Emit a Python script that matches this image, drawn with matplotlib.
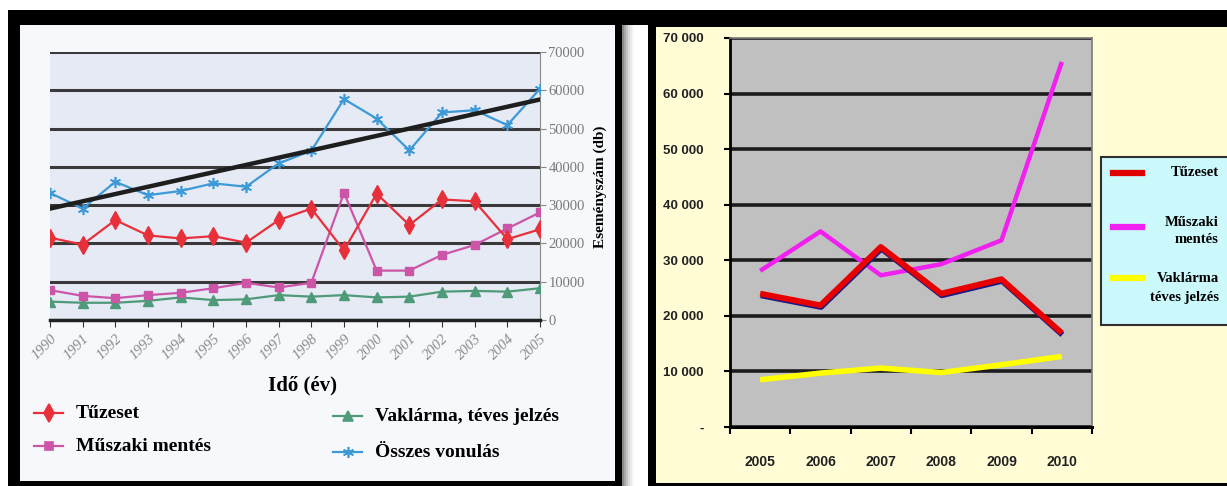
import numpy as np
import matplotlib
matplotlib.use("Agg")
import matplotlib.pyplot as plt
from matplotlib.patches import Rectangle
from matplotlib.lines import Line2D
from matplotlib import patheffects as pe

# left chart: 1990-2005
years_a = list(range(1990, 2006))
tuzeset_a = [21500, 19700, 26100, 22100, 21300, 21900, 20200, 26100,
             29100, 18200, 33000, 24800, 31500, 31000, 21100, 23700]
muszaki_a = [7800, 6300, 5700, 6500, 7100, 8300, 9700, 8500,
             9700, 33200, 12900, 12900, 17000, 19600, 23900, 28100]
vaklarma_a = [4800, 4500, 4500, 5000, 5900, 5200, 5400, 6500,
              6100, 6500, 5900, 6100, 7400, 7600, 7400, 8300]
osszes_a = [33200, 29100, 36100, 32600, 33700, 35700, 34800, 40900,
            44200, 57700, 52600, 44300, 54200, 54800, 50900, 60400]
trend_years = [1990, 2005]
trend_vals = [29100, 57600]

# right chart: 2005-2010
years_b = [2005, 2006, 2007, 2008, 2009, 2010]
tuzeset_b = [24000, 21900, 32400, 24000, 26600, 16900]
muszaki_b = [28100, 35200, 27300, 29300, 33600, 65700]
vaklarma_b = [8500, 9700, 10600, 9800, 11200, 12700]

W, H = 1227, 486
SERIF = "Liberation Serif"
SANS = "Liberation Sans"


def fx(px):
    return px / W


def fy(py):
    return 1 - py / H


def box(x0, y0, x1, y1, color, z=0):
    fig.add_artist(Rectangle((fx(x0), fy(y1)), fx(x1) - fx(x0), fy(y0) - fy(y1),
                             transform=fig.transFigure, facecolor=color,
                             edgecolor="none", zorder=z))


fig = plt.figure(figsize=(W / 100, H / 100), dpi=100)
fig.patch.set_facecolor("white")

# frames and panel backgrounds
box(8, 10, W, H, "black", -10)
box(20, 25, 615, 481, "#f6f8fc", -9)
box(622, 25, 648, H, "white", -9)
for i, c in enumerate(["#8a8a8a", "#a8a8a8", "#c4c4c4", "#dadada", "#ebebeb", "#f6f6f6"]):
    box(622 + i * 2, 25, 624 + i * 2, H, c, -8)
box(656, 27, W, 483, "#fffcd6", -9)

# ---------------- left chart ----------------
ax1 = fig.add_axes([fx(50), fy(320), fx(540) - fx(50), fy(52) - fy(320)])
ax1.set_facecolor("#e5eaf5")
ax1.set_xlim(1990, 2005)
ax1.set_ylim(0, 70000)
ax1.set_yticks(range(0, 70001, 10000))
ax1.yaxis.tick_right()
ax1.yaxis.grid(True, color="#3a3a3a", lw=2.2)
ax1.set_axisbelow(True)
for s in ["left", "top"]:
    ax1.spines[s].set_visible(False)
ax1.spines["right"].set_color("#8a8a8a")
ax1.spines["bottom"].set_color("#222222")
ax1.spines["bottom"].set_linewidth(2.5)
ax1.tick_params(axis="y", colors="#8a8a8a", labelcolor="#7a7a7a", length=4,
                labelsize=10.5, pad=2)
for lab in ax1.get_yticklabels():
    lab.set_fontfamily(SERIF)
ax1.set_xticks(years_a)
ax1.set_xticklabels([str(y) for y in years_a], rotation=45, ha="right",
                    rotation_mode="anchor", fontfamily=SERIF, fontstyle="italic",
                    fontsize=10.5, color="#8a8a8a")
ax1.tick_params(axis="x", length=5, color="#333333", pad=4)

ax1.plot(years_a, osszes_a, color="#3d9ad6", lw=1.6, marker=(6, 2, 0), ms=8,
         mew=1.2, zorder=3)
ax1.plot(trend_years, trend_vals, color="#1e1e1e", lw=3.2, zorder=4)
ax1.plot(years_a, vaklarma_a, color="#4f9a78", lw=1.6, marker="^", ms=7, zorder=3)
ax1.plot(years_a, muszaki_a, color="#cc55a8", lw=1.6, marker="s", ms=6, zorder=3)
ax1.plot(years_a, tuzeset_a, color="#e8303a", lw=1.6, marker="d", ms=9, zorder=5)

fig.text(fx(600), fy(187), "Eseményszám (db)", rotation=90, ha="center",
         va="center", fontfamily=SERIF, fontweight="bold", fontsize=11)
fig.text(fx(303), fy(385), "Idő (év)", ha="center", va="center",
         fontfamily=SERIF, fontweight="bold", fontsize=15)

# left legend
leg_a = [("Tűzeset", "#e8303a", "d", 9, 34, 413),
         ("Műszaki mentés", "#cc55a8", "s", 6, 34, 446),
         ("Vaklárma, téves jelzés", "#4f9a78", "^", 7, 333, 416),
         ("Összes vonulás", "#3d9ad6", (6, 2, 0), 8, 333, 452)]
for label, col, mk, ms, x0, y0 in leg_a:
    fig.add_artist(Line2D([fx(x0), fx(x0 + 29)], [fy(y0), fy(y0)], color=col,
                          lw=1.6, transform=fig.transFigure))
    fig.add_artist(Line2D([fx(x0 + 14.5)], [fy(y0)], color=col, marker=mk, ms=ms,
                          mew=1.2, transform=fig.transFigure))
    fig.text(fx(x0 + 42), fy(y0), label, ha="left", va="center",
             fontfamily=SERIF, fontweight="bold", fontsize=14)

# ---------------- right chart ----------------
ax2 = fig.add_axes([fx(730), fy(427), fx(1092) - fx(730), fy(38) - fy(427)])
ax2.set_facecolor("#c0c0c0")
ax2.set_xlim(2004.5, 2010.5)
ax2.set_ylim(0, 70000)
yt = list(range(0, 70001, 10000))
ax2.set_yticks(yt)
ax2.set_yticklabels(["-"] + ["{} 000".format(v // 1000) for v in yt[1:]])
ax2.yaxis.grid(True, color="#1c1c1c", lw=2.6)
ax2.set_axisbelow(True)
ax2.spines["top"].set_color("#7a7a7a")
ax2.spines["right"].set_color("#7a7a7a")
ax2.spines["top"].set_linewidth(1.2)
ax2.spines["right"].set_linewidth(1.2)
ax2.spines["left"].set_linewidth(2)
ax2.spines["bottom"].set_linewidth(2.2)
ax2.tick_params(axis="y", length=4, width=1.5, pad=15, labelsize=9.5,
                labelcolor="#222222")
ax2.set_xticks(years_b)
ax2.set_xticks([y - 0.5 for y in years_b] + [2010.5], minor=True)
ax2.tick_params(axis="x", which="major", length=0, pad=20, labelsize=10,
                labelcolor="#222222")
ax2.tick_params(axis="x", which="minor", length=5, width=1.5)
for lab in ax2.get_xticklabels() + ax2.get_yticklabels():
    lab.set_fontfamily(SANS)
    lab.set_fontweight("bold")

ax2.plot(years_b, vaklarma_b, color="#ffff00", lw=4, solid_capstyle="butt", zorder=3)
ax2.plot(years_b, muszaki_b, color="#f020f0", lw=3.2, solid_capstyle="butt", zorder=3)
ax2.plot(years_b, tuzeset_b, color="#e80000", lw=4.2, solid_capstyle="butt", zorder=4,
         path_effects=[pe.SimpleLineShadow(offset=(0.4, -1.2), shadow_color="#1a1a80",
                                           alpha=1), pe.Normal()])

# right legend
fig.add_artist(Rectangle((fx(1101), fy(325)), fx(1300) - fx(1101), fy(157) - fy(325),
                         transform=fig.transFigure, facecolor="#ccf9fb",
                         edgecolor="#303030", lw=1.5, zorder=1))
leg_b = [("Tűzeset", "#e00000", 173, [173]),
         ("Műszaki\nmentés", "#f020f0", 227, [222, 239]),
         ("Vaklárma\ntéves jelzés", "#ffff00", 278, [279, 297])]
for label, col, ys, ty in leg_b:
    fig.add_artist(Line2D([fx(1113), fx(1142)], [fy(ys), fy(ys)], color=col, lw=4.5,
                          transform=fig.transFigure, zorder=2))
    for line, yy in zip(label.split("\n"), ty):
        fig.text(fx(1219), fy(yy), line, ha="right", va="center", fontfamily=SERIF,
                 fontweight="bold", fontsize=10.5, zorder=3)

fig.savefig("out.png", dpi=100)
